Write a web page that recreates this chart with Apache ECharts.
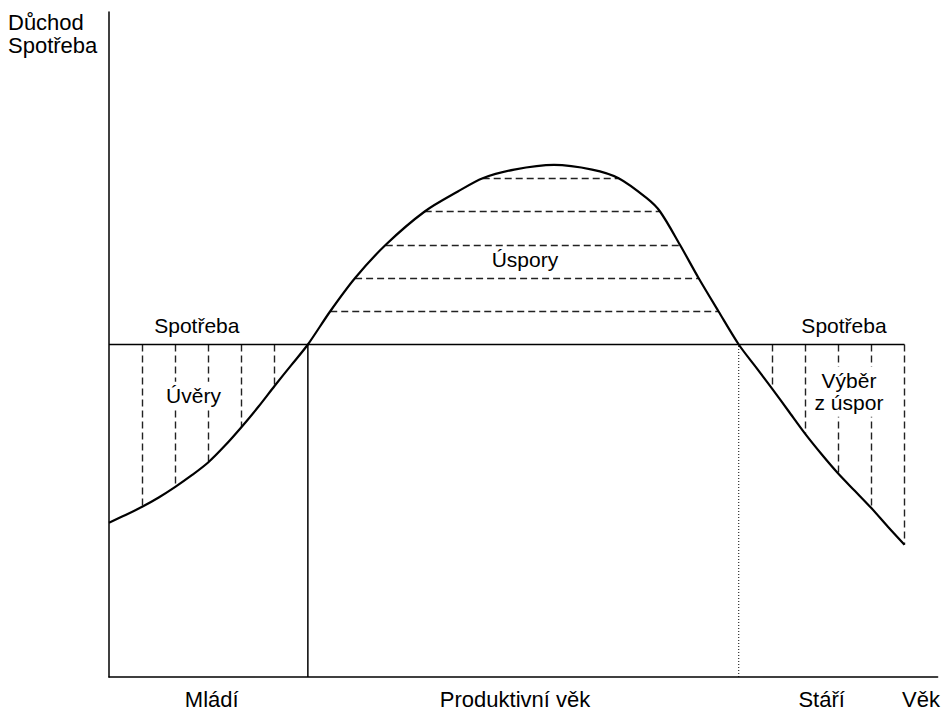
<!DOCTYPE html>
<html><head><meta charset="utf-8">
<script src="https://cdn.jsdelivr.net/npm/echarts@6/dist/echarts.min.js"></script>
<style>html,body{margin:0;padding:0;background:#fff}#c{width:943px;height:712px}</style>
</head><body><div id="c"></div>
<script>
// Income curve over the life cycle (age units 0..100, income units 0..100)
const ages   = [0, 2, 4, 6, 8, 10, 12, 14, 16, 18, 20, 22, 24, 26.7, 29.7, 33.4, 38.1, 42.1, 45.1, 48.9, 53.7, 58.3, 61.5, 64.9, 66.5, 68.9, 71.15, 73.55, 76, 78, 80, 82, 84, 86, 88, 90, 92, 94, 96];
const income = [23.2, 24.35, 25.6, 27.0, 28.6, 30.35, 32.3, 34.8, 37.6, 40.6, 43.8, 46.9, 50, 55, 60, 65, 70, 73, 75, 76.3, 77.0, 76.3, 75, 72, 70, 65, 60, 55, 50, 46.7, 43.4, 40.0, 36.6, 33.5, 30.6, 28.0, 25.4, 22.6, 19.9];
// Consumption level and its extent
const consumption = 50;
const consumptionEndAge = 96;
// Boundaries of life phases
const workStartAge = 24;
const retireAge = 76;
// Hatch lines
const loanAges = [4, 8, 12, 16, 20];
const withdrawAges = [80, 84, 88, 92, 96];
const savingLevels = [55, 60, 65, 70, 75];
// Bottom labels
const ageGroups = ['Mládí', 'Produktivní věk', 'Stáří', 'Věk'];
const ageGroupAt = [12.4, 49, 86, 98];

const incomeAt = a => income[ages.indexOf(a)];
const peakIdx = income.indexOf(Math.max(...income));
const savingSegments = savingLevels.map(L => {
  let left = null, right = null;
  income.forEach((v, i) => { if (v === L) { if (i < peakIdx && left === null) left = ages[i]; if (i > peakIdx) right = ages[i]; } });
  return { coords: [[left, L], [right, L]] };
});
const verticalSegments = loanAges.concat(withdrawAges).map(a => ({ coords: [[a, consumption], [a, incomeAt(a)]] }));

const FONT = "'Liberation Sans', Arial, Helvetica, sans-serif";

const chart = echarts.init(document.getElementById('c'), null, { renderer: 'svg' });
chart.setOption({
  animation: false,
  backgroundColor: '#fff',
  grid: { left: 109, top: 12, right: 1, bottom: 35 },
  xAxis: {
    type: 'value', min: 0, max: 100,
    splitLine: { show: false },
    axisTick: { show: false },
    axisLine: { show: true, lineStyle: { color: '#000', width: 1.5 } },
    axisLabel: {
      customValues: ageGroupAt,
      formatter: v => ageGroups[ageGroupAt.indexOf(v)],
      margin: 11, fontFamily: FONT, fontSize: 22, color: '#000'
    }
  },
  yAxis: {
    type: 'value', min: 0, max: 100,
    splitLine: { show: false },
    axisTick: { show: false },
    axisLabel: { show: false },
    axisLine: { show: true, lineStyle: { color: '#000', width: 1.5 } }
  },
  graphic: [{
    type: 'text', left: 8, top: 11, z: 10,
    style: { text: 'Důchod\nSpotřeba', font: "22px 'Liberation Sans', Arial, sans-serif", fill: '#000', lineHeight: 23, textAlign: 'left' }
  }],
  series: [
    {
      type: 'lines', coordinateSystem: 'cartesian2d', z: 2, silent: true,
      lineStyle: { color: '#222', width: 1.4, type: [7, 4], opacity: 1 },
      data: verticalSegments
    },
    {
      type: 'lines', coordinateSystem: 'cartesian2d', z: 2, silent: true,
      lineStyle: { color: '#222', width: 1.4, type: [7, 4], opacity: 1 },
      data: savingSegments
    },
    {
      type: 'line', symbol: 'none', z: 3, silent: true,
      lineStyle: { color: '#000', width: 1.5 },
      data: [[0, consumption], [consumptionEndAge, consumption]]
    },
    {
      type: 'line', symbol: 'none', z: 3, silent: true,
      lineStyle: { color: '#000', width: 1.5 },
      data: [[workStartAge, 0], [workStartAge, consumption]]
    },
    {
      type: 'line', symbol: 'none', z: 3, silent: true,
      lineStyle: { color: '#000', width: 1, type: [1, 2] },
      data: [[retireAge, 0], [retireAge, consumption]]
    },
    {
      type: 'line', symbol: 'none', smooth: 0.3, z: 4, silent: true,
      lineStyle: { color: '#000', width: 2.2 },
      data: ages.map((a, i) => [a, income[i]])
    },
    {
      type: 'scatter', symbolSize: 0, z: 10, silent: true,
      itemStyle: { color: '#000', opacity: 1 },
      label: {
        show: true, position: 'inside', formatter: '{b}', lineHeight: 22,
        fontFamily: FONT, fontSize: 21, color: '#000', opacity: 1,
        textBorderWidth: 0
      },
      data: [
        { name: 'Spotřeba', value: [10.6, 52.9] },
        { name: 'Spotřeba', value: [88.7, 52.9] },
        { name: 'Úspory', value: [50.2, 62.8] },
        { name: 'Úvěry', value: [10.2, 42.3], label: { backgroundColor: '#fff', padding: [3, 1] } },
        { name: 'Výběr\nz úspor', value: [89.3, 42.9], label: { backgroundColor: '#fff', padding: [3, 0] } }
      ]
    }
  ]
});
</script></body></html>
